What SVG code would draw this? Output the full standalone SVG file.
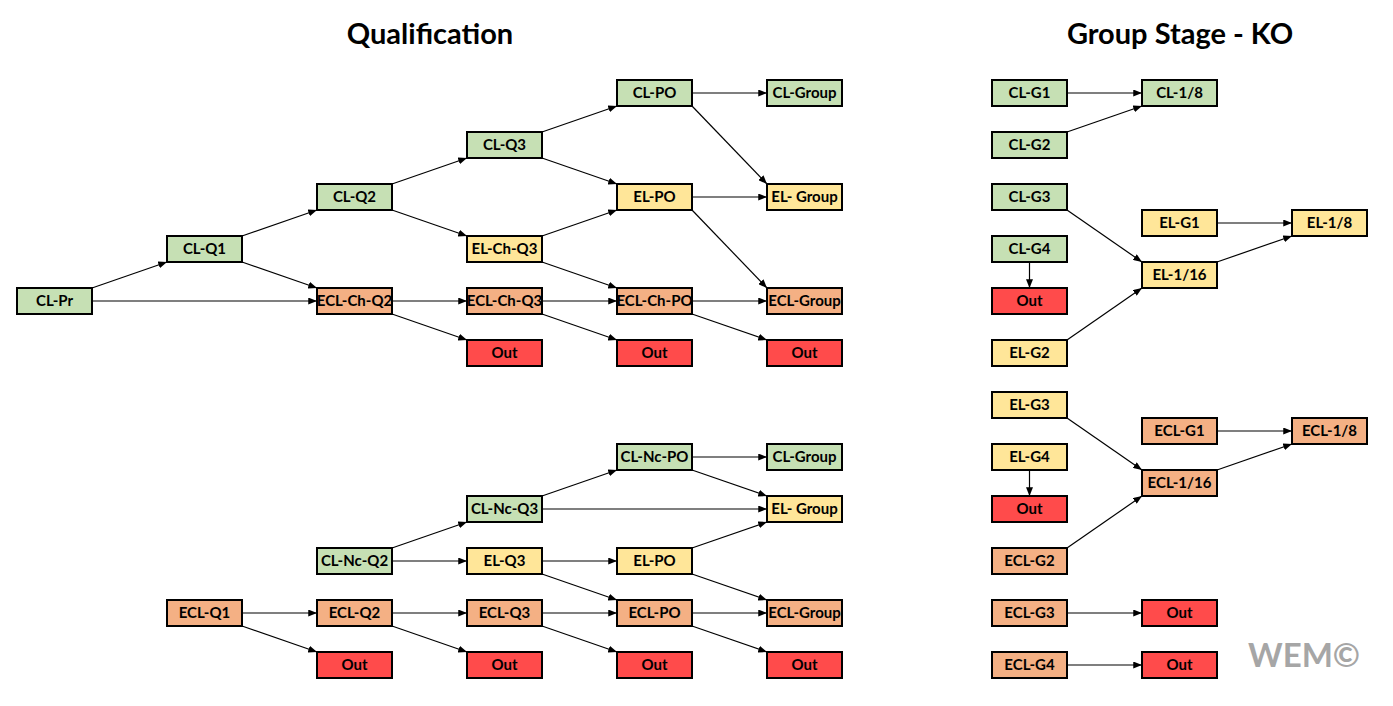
<svg xmlns="http://www.w3.org/2000/svg" width="1393" height="706" viewBox="0 0 1393 706">
<style>
.b rect{stroke:#000;stroke-width:2}
.g rect{fill:#C6E0B4}.y rect{fill:#FFE699}.o rect{fill:#F4B084}.r rect{fill:#FF4B4B}
.b text{font-family:Lato,"Open Sans","Liberation Sans",sans-serif;font-weight:bold;font-size:15px;text-anchor:middle;fill:#000}
.t{font-family:Lato,"Open Sans","Liberation Sans",sans-serif;font-weight:bold;font-size:29px;text-anchor:middle;fill:#000}
#edges line{stroke:#000;stroke-width:1.2;marker-end:url(#ah)}
</style>
<defs>
<marker id="ah" viewBox="0 0 10 8" refX="10" refY="4" markerWidth="9" markerHeight="7" markerUnits="userSpaceOnUse" orient="auto"><path d="M0,0L10,4L0,8z" fill="#000"/></marker>
</defs>
<rect width="1393" height="706" fill="#fff"/>
<text class="t" x="430" y="44">Qualification</text>
<text class="t" x="1180" y="44">Group Stage - KO</text>
<text x="1304" y="667" style="font-family:Lato,'Open Sans','Liberation Sans',sans-serif;font-weight:bold;font-size:33px;text-anchor:middle;fill:#A6A6A6">WEM©</text>

<g id="edges">
<line x1="92" y1="288" x2="167" y2="262"/>
<line x1="92" y1="301" x2="317" y2="301"/>
<line x1="242" y1="236" x2="317" y2="210"/>
<line x1="242" y1="262" x2="317" y2="288"/>
<line x1="392" y1="184" x2="467" y2="158"/>
<line x1="392" y1="210" x2="467" y2="236"/>
<line x1="542" y1="132" x2="617" y2="106"/>
<line x1="542" y1="158" x2="617" y2="184"/>
<line x1="542" y1="236" x2="617" y2="210"/>
<line x1="542" y1="262" x2="617" y2="288"/>
<line x1="392" y1="301" x2="467" y2="301"/>
<line x1="392" y1="314" x2="467" y2="340"/>
<line x1="542" y1="301" x2="617" y2="301"/>
<line x1="542" y1="314" x2="617" y2="340"/>
<line x1="692" y1="93" x2="767" y2="93"/>
<line x1="692" y1="106" x2="767" y2="184"/>
<line x1="692" y1="197" x2="767" y2="197"/>
<line x1="692" y1="210" x2="767" y2="288"/>
<line x1="692" y1="301" x2="767" y2="301"/>
<line x1="692" y1="314" x2="767" y2="340"/>

<line x1="392" y1="548" x2="467" y2="522"/>
<line x1="392" y1="561" x2="467" y2="561"/>
<line x1="542" y1="496" x2="617" y2="470"/>
<line x1="542" y1="509" x2="767" y2="509"/>
<line x1="692" y1="457" x2="767" y2="457"/>
<line x1="692" y1="470" x2="767" y2="496"/>
<line x1="542" y1="561" x2="617" y2="561"/>
<line x1="542" y1="574" x2="617" y2="600"/>
<line x1="692" y1="548" x2="767" y2="522"/>
<line x1="692" y1="574" x2="767" y2="600"/>
<line x1="242" y1="613" x2="317" y2="613"/>
<line x1="242" y1="626" x2="317" y2="652"/>
<line x1="392" y1="613" x2="467" y2="613"/>
<line x1="392" y1="626" x2="467" y2="652"/>
<line x1="542" y1="613" x2="617" y2="613"/>
<line x1="542" y1="626" x2="617" y2="652"/>
<line x1="692" y1="613" x2="767" y2="613"/>
<line x1="692" y1="626" x2="767" y2="652"/>

<line x1="1067" y1="93" x2="1142" y2="93"/>
<line x1="1067" y1="132" x2="1142" y2="106"/>
<line x1="1067" y1="210" x2="1142" y2="262"/>
<line x1="1217" y1="223" x2="1292" y2="223"/>
<line x1="1217" y1="262" x2="1292" y2="236"/>
<line x1="1029.5" y1="262" x2="1029.5" y2="288"/>
<line x1="1067" y1="340" x2="1142" y2="288"/>
<line x1="1067" y1="418" x2="1142" y2="470"/>
<line x1="1029.5" y1="470" x2="1029.5" y2="496"/>
<line x1="1067" y1="548" x2="1142" y2="496"/>
<line x1="1217" y1="431" x2="1292" y2="431"/>
<line x1="1217" y1="470" x2="1292" y2="444"/>
<line x1="1067" y1="613" x2="1142" y2="613"/>
<line x1="1067" y1="665" x2="1142" y2="665"/>
</g>

<g id="n-cl-pr" class="b g"><rect x="17" y="288" width="75" height="26"/><text x="54.5" y="306">CL-Pr</text></g>
<g id="n-cl-q1" class="b g"><rect x="167" y="236" width="75" height="26"/><text x="204.5" y="254">CL-Q1</text></g>
<g id="n-cl-q2" class="b g"><rect x="317" y="184" width="75" height="26"/><text x="354.5" y="202">CL-Q2</text></g>
<g id="n-ecl-ch-q2" class="b o"><rect x="317" y="288" width="75" height="26"/><text x="354.5" y="306">ECL-Ch-Q2</text></g>
<g id="n-cl-q3" class="b g"><rect x="467" y="132" width="75" height="26"/><text x="504.5" y="150">CL-Q3</text></g>
<g id="n-el-ch-q3" class="b y"><rect x="467" y="236" width="75" height="26"/><text x="504.5" y="254">EL-Ch-Q3</text></g>
<g id="n-ecl-ch-q3" class="b o"><rect x="467" y="288" width="75" height="26"/><text x="504.5" y="306">ECL-Ch-Q3</text></g>
<g id="n-out-a1" class="b r"><rect x="467" y="340" width="75" height="26"/><text x="504.5" y="358">Out</text></g>
<g id="n-cl-po" class="b g"><rect x="617" y="80" width="75" height="26"/><text x="654.5" y="98">CL-PO</text></g>
<g id="n-el-po" class="b y"><rect x="617" y="184" width="75" height="26"/><text x="654.5" y="202">EL-PO</text></g>
<g id="n-ecl-ch-po" class="b o"><rect x="617" y="288" width="75" height="26"/><text x="654.5" y="306">ECL-Ch-PO</text></g>
<g id="n-out-a2" class="b r"><rect x="617" y="340" width="75" height="26"/><text x="654.5" y="358">Out</text></g>
<g id="n-cl-group" class="b g"><rect x="767" y="80" width="75" height="26"/><text x="804.5" y="98">CL-Group</text></g>
<g id="n-el-group" class="b y"><rect x="767" y="184" width="75" height="26"/><text x="804.5" y="202">EL- Group</text></g>
<g id="n-ecl-group" class="b o"><rect x="767" y="288" width="75" height="26"/><text x="804.5" y="306">ECL-Group</text></g>
<g id="n-out-a3" class="b r"><rect x="767" y="340" width="75" height="26"/><text x="804.5" y="358">Out</text></g>

<g id="n-cl-nc-po" class="b g"><rect x="617" y="444" width="75" height="26"/><text x="654.5" y="462">CL-Nc-PO</text></g>
<g id="n-cl-group-b" class="b g"><rect x="767" y="444" width="75" height="26"/><text x="804.5" y="462">CL-Group</text></g>
<g id="n-cl-nc-q3" class="b g"><rect x="467" y="496" width="75" height="26"/><text x="504.5" y="514">CL-Nc-Q3</text></g>
<g id="n-el-group-b" class="b y"><rect x="767" y="496" width="75" height="26"/><text x="804.5" y="514">EL- Group</text></g>
<g id="n-cl-nc-q2" class="b g"><rect x="317" y="548" width="75" height="26"/><text x="354.5" y="566">CL-Nc-Q2</text></g>
<g id="n-el-q3" class="b y"><rect x="467" y="548" width="75" height="26"/><text x="504.5" y="566">EL-Q3</text></g>
<g id="n-el-po-b" class="b y"><rect x="617" y="548" width="75" height="26"/><text x="654.5" y="566">EL-PO</text></g>
<g id="n-ecl-q1" class="b o"><rect x="167" y="600" width="75" height="26"/><text x="204.5" y="618">ECL-Q1</text></g>
<g id="n-ecl-q2" class="b o"><rect x="317" y="600" width="75" height="26"/><text x="354.5" y="618">ECL-Q2</text></g>
<g id="n-ecl-q3" class="b o"><rect x="467" y="600" width="75" height="26"/><text x="504.5" y="618">ECL-Q3</text></g>
<g id="n-ecl-po" class="b o"><rect x="617" y="600" width="75" height="26"/><text x="654.5" y="618">ECL-PO</text></g>
<g id="n-ecl-group-b" class="b o"><rect x="767" y="600" width="75" height="26"/><text x="804.5" y="618">ECL-Group</text></g>
<g id="n-out-b1" class="b r"><rect x="317" y="652" width="75" height="26"/><text x="354.5" y="670">Out</text></g>
<g id="n-out-b2" class="b r"><rect x="467" y="652" width="75" height="26"/><text x="504.5" y="670">Out</text></g>
<g id="n-out-b3" class="b r"><rect x="617" y="652" width="75" height="26"/><text x="654.5" y="670">Out</text></g>
<g id="n-out-b4" class="b r"><rect x="767" y="652" width="75" height="26"/><text x="804.5" y="670">Out</text></g>

<g id="n-cl-g1" class="b g"><rect x="992" y="80" width="75" height="26"/><text x="1029.5" y="98">CL-G1</text></g>
<g id="n-cl-18" class="b g"><rect x="1142" y="80" width="75" height="26"/><text x="1179.5" y="98">CL-1/8</text></g>
<g id="n-cl-g2" class="b g"><rect x="992" y="132" width="75" height="26"/><text x="1029.5" y="150">CL-G2</text></g>
<g id="n-cl-g3" class="b g"><rect x="992" y="184" width="75" height="26"/><text x="1029.5" y="202">CL-G3</text></g>
<g id="n-el-g1" class="b y"><rect x="1142" y="210" width="75" height="26"/><text x="1179.5" y="228">EL-G1</text></g>
<g id="n-el-18" class="b y"><rect x="1292" y="210" width="75" height="26"/><text x="1329.5" y="228">EL-1/8</text></g>
<g id="n-cl-g4" class="b g"><rect x="992" y="236" width="75" height="26"/><text x="1029.5" y="254">CL-G4</text></g>
<g id="n-el-116" class="b y"><rect x="1142" y="262" width="75" height="26"/><text x="1179.5" y="280">EL-1/16</text></g>
<g id="n-out-c1" class="b r"><rect x="992" y="288" width="75" height="26"/><text x="1029.5" y="306">Out</text></g>
<g id="n-el-g2" class="b y"><rect x="992" y="340" width="75" height="26"/><text x="1029.5" y="358">EL-G2</text></g>
<g id="n-el-g3" class="b y"><rect x="992" y="392" width="75" height="26"/><text x="1029.5" y="410">EL-G3</text></g>
<g id="n-ecl-g1" class="b o"><rect x="1142" y="418" width="75" height="26"/><text x="1179.5" y="436">ECL-G1</text></g>
<g id="n-ecl-18" class="b o"><rect x="1292" y="418" width="75" height="26"/><text x="1329.5" y="436">ECL-1/8</text></g>
<g id="n-el-g4" class="b y"><rect x="992" y="444" width="75" height="26"/><text x="1029.5" y="462">EL-G4</text></g>
<g id="n-ecl-116" class="b o"><rect x="1142" y="470" width="75" height="26"/><text x="1179.5" y="488">ECL-1/16</text></g>
<g id="n-out-c2" class="b r"><rect x="992" y="496" width="75" height="26"/><text x="1029.5" y="514">Out</text></g>
<g id="n-ecl-g2" class="b o"><rect x="992" y="548" width="75" height="26"/><text x="1029.5" y="566">ECL-G2</text></g>
<g id="n-ecl-g3" class="b o"><rect x="992" y="600" width="75" height="26"/><text x="1029.5" y="618">ECL-G3</text></g>
<g id="n-out-c3" class="b r"><rect x="1142" y="600" width="75" height="26"/><text x="1179.5" y="618">Out</text></g>
<g id="n-ecl-g4" class="b o"><rect x="992" y="652" width="75" height="26"/><text x="1029.5" y="670">ECL-G4</text></g>
<g id="n-out-c4" class="b r"><rect x="1142" y="652" width="75" height="26"/><text x="1179.5" y="670">Out</text></g>
</svg>
